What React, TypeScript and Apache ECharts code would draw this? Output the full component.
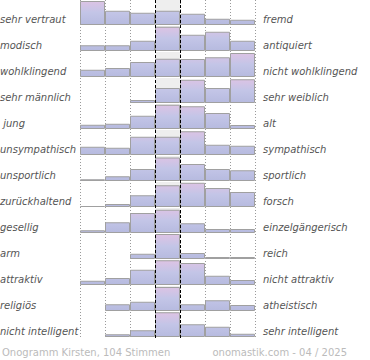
import React, { useEffect, useRef } from "react";
import * as echarts from "echarts";

const scale = ["1", "2", "3", "4", "5", "6", "7"];
const leftLabels = [
  "sehr vertraut",
  "modisch",
  "wohlklingend",
  "sehr männlich",
  " jung",
  "unsympathisch",
  "unsportlich",
  "zurückhaltend",
  "gesellig",
  "arm",
  "attraktiv",
  "religiös",
  "nicht intelligent",
];
const rightLabels = [
  "fremd",
  "antiquiert",
  "nicht wohlklingend",
  "sehr weiblich",
  "alt",
  "sympathisch",
  "sportlich",
  "forsch",
  "einzelgängerisch",
  "reich",
  "nicht attraktiv",
  "atheistisch",
  "sehr intelligent",
];
const r1 = [96, 57, 49, 57, 45, 25, 21];
const r2 = [23, 23, 41, 97, 65, 77, 41];
const r3 = [29, 36, 60, 73, 72, 79, 96];
const r4 = [0, 0, 12, 60, 93, 60, 95];
const r5 = [17, 21, 53, 97, 91, 64, 16];
const r6 = [33, 29, 73, 73, 95, 41, 37];
const r7 = [7, 19, 48, 94, 68, 48, 43];
const r8 = [4, 12, 47, 87, 97, 76, 60];
const r9 = [11, 43, 80, 93, 39, 16, 16];
const r10 = [0, 0, 21, 100, 24, 8, 8];
const r11 = [17, 28, 61, 99, 88, 37, 20];
const r12 = [0, 27, 37, 96, 27, 43, 24];
const r13 = [0, 11, 27, 99, 51, 41, 13];
const rows = [r1, r2, r3, r4, r5, r6, r7, r8, r9, r10, r11, r12, r13];
const footerLeft = "Onogramm Kirsten, 104 Stimmen";
const footerRight = "onomastik.com - 04 / 2025";

const ROW_H = 26;
const LEFT = 80;
const WIDTH = 175;

export default function App() {
  const ref = useRef<HTMLDivElement>(null);
  useEffect(() => {
    if (!ref.current) return;
    const chart = echarts.init(ref.current, null, { renderer: "svg" });
    const grids: any[] = [{ left: LEFT, top: 0, width: WIDTH, height: 338 }];
    const xAxes: any[] = [
      {
        type: "value",
        gridIndex: 0,
        min: 0,
        max: 7,
        interval: 1,
        axisLine: { show: false },
        axisTick: { show: false },
        axisLabel: { show: false },
        splitLine: { show: true, lineStyle: { color: "#9a9a9a", type: [1, 2], width: 1 } },
        z: 0,
      },
    ];
    const yAxes: any[] = [{ type: "value", gridIndex: 0, min: 0, max: 1, show: false }];
    const series: any[] = [
      {
        type: "scatter",
        xAxisIndex: 0,
        yAxisIndex: 0,
        data: [[0, 0]],
        symbolSize: 0,
        itemStyle: { opacity: 0 },
        silent: true,
        z: 10,
        markLine: {
          silent: true,
          symbol: ["none", "none"],
          label: { show: false },
          lineStyle: { color: "#000", type: [3, 2], width: 1 },
          data: [{ xAxis: 3 }, { xAxis: 4 }],
        },
      },
    ];
    const graphics: any[] = [];
    rows.forEach((vals, i) => {
      const gi = i + 1;
      const top = i * ROW_H;
      grids.push({ left: LEFT, top, width: WIDTH, height: 25 });
      xAxes.push({
        type: "category",
        gridIndex: gi,
        data: scale,
        boundaryGap: true,
        axisLine: {
          show: true,
          lineStyle: {
            color: "#000",
            width: 2,
            shadowColor: "rgba(0,0,0,0.35)",
            shadowOffsetY: 2,
            shadowBlur: 1,
          },
        },
        axisTick: { show: false },
        axisLabel: { show: false },
        splitLine: { show: false },
        z: 5,
      });
      yAxes.push({ type: "value", gridIndex: gi, min: 0, max: 100, show: false });
      series.push({
        type: "bar",
        xAxisIndex: gi,
        yAxisIndex: gi,
        silent: true,
        barWidth: "100%",
        barGap: "-100%",
        itemStyle: { color: "#eeeeee" },
        data: scale.map((_, k) => (k === 3 ? 100 : null)),
        z: 1,
      });
      series.push({
        type: "bar",
        xAxisIndex: gi,
        yAxisIndex: gi,
        silent: true,
        barWidth: "100%",
        barGap: "-100%",
        itemStyle: {
          color: new echarts.graphic.LinearGradient(
            0,
            top,
            0,
            top + 25,
            [
              { offset: 0, color: "#dfc3e4" },
              { offset: 0.5, color: "#c3c5e7" },
              { offset: 1, color: "#b6badf" },
            ],
            true
          ),
          borderColor: "#a0a0a0",
          borderWidth: 1,
        },
        data: vals.map((v) => (v === 0 ? null : v)),
        z: 2,
      });
      graphics.push({
        type: "text",
        x: 0,
        y: top + 19,
        style: {
          text: leftLabels[i],
          font: "italic 10px 'DejaVu Sans'",
          fill: "#555",
          verticalAlign: "middle",
        },
      });
      graphics.push({
        type: "text",
        x: 263,
        y: top + 19,
        style: {
          text: rightLabels[i],
          font: "italic 10px 'DejaVu Sans'",
          fill: "#555",
          verticalAlign: "middle",
        },
      });
    });
    graphics.push({
      type: "text",
      x: 2,
      y: 352,
      style: { text: footerLeft, font: "10px 'DejaVu Sans'", fill: "#bbbbbb", verticalAlign: "middle" },
    });
    graphics.push({
      type: "text",
      x: 347,
      y: 352,
      style: {
        text: footerRight,
        font: "10px 'DejaVu Sans'",
        fill: "#bbbbbb",
        verticalAlign: "middle",
        align: "right",
      },
    });
    chart.setOption({
      animation: false,
      backgroundColor: "#fff",
      grid: grids,
      xAxis: xAxes,
      yAxis: yAxes,
      series,
      graphic: graphics,
    });
    return () => chart.dispose();
  }, []);
  return (
    <div
      ref={ref}
      style={{ position: "absolute", left: 0, top: 0, width: 370, height: 360 }}
    />
  );
}
